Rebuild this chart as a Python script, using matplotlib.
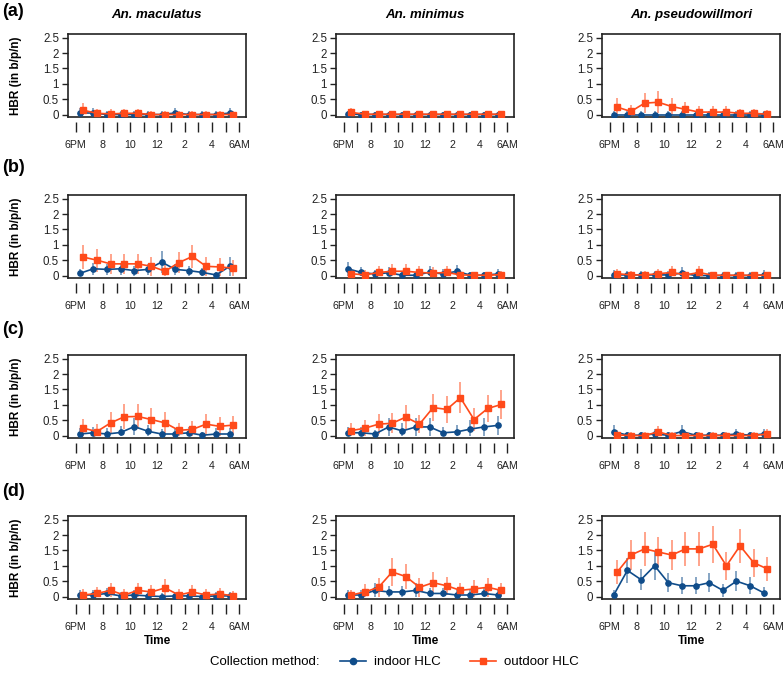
import numpy as np
import matplotlib
matplotlib.use('Agg')
import matplotlib.pyplot as plt
from matplotlib.lines import Line2D

plt.rcParams['font.family'] = ['Liberation Sans', 'DejaVu Sans']

# hourly tick marks from 6PM to 6AM, labels every two hours
tick_hours = list(range(13))
label_hours = [0, 2, 4, 6, 8, 10, 12]
tick_labels = ['6PM', '8', '10', '12', '2', '4', '6AM']
slot = np.arange(12)  # one-hour collection slots

species = ['An. maculatus', 'An. minimus', 'An. pseudowillmori']
row_tags = ['(a)', '(b)', '(c)', '(d)']

# HBR values, one list per row (a-d), 12 hourly slots each
mac_in = [[0.05, 0.05, 0.0, 0.0, 0.0, 0.0, 0.0, 0.05, 0.0, 0.0, 0.0, 0.05],
          [0.07, 0.22, 0.2, 0.22, 0.16, 0.2, 0.44, 0.2, 0.16, 0.1, 0.02, 0.3],
          [0.05, 0.09, 0.05, 0.1, 0.29, 0.14, 0.05, 0.05, 0.09, 0.01, 0.05, 0.05],
          [0.05, 0.05, 0.1, 0.02, 0.05, 0.02, 0.0, 0.02, 0.02, 0.0, 0.02, 0.02]]
mac_in_err = [[0.15, 0.15, 0.1, 0.1, 0.1, 0.1, 0.1, 0.15, 0.1, 0.1, 0.1, 0.15],
              [0.15, 0.2, 0.18, 0.2, 0.16, 0.18, 0.35, 0.18, 0.16, 0.14, 0.1, 0.3],
              [0.18, 0.2, 0.18, 0.2, 0.28, 0.2, 0.15, 0.15, 0.2, 0.1, 0.18, 0.18],
              [0.15, 0.15, 0.18, 0.12, 0.15, 0.12, 0.1, 0.12, 0.12, 0.1, 0.12, 0.12]]
mac_out = [[0.14, 0.04, 0.02, 0.04, 0.04, 0.0, 0.0, 0.0, 0.0, 0.0, 0.0, 0.0],
           [0.6, 0.5, 0.38, 0.38, 0.38, 0.3, 0.14, 0.42, 0.62, 0.3, 0.28, 0.24],
           [0.24, 0.13, 0.41, 0.61, 0.62, 0.52, 0.41, 0.17, 0.2, 0.37, 0.3, 0.34],
           [0.05, 0.1, 0.2, 0.05, 0.2, 0.15, 0.28, 0.05, 0.15, 0.05, 0.08, 0.03]]
mac_out_err = [[0.22, 0.15, 0.15, 0.15, 0.15, 0.12, 0.1, 0.1, 0.1, 0.1, 0.1, 0.1],
               [0.4, 0.37, 0.33, 0.33, 0.33, 0.3, 0.2, 0.33, 0.38, 0.3, 0.28, 0.25],
               [0.3, 0.25, 0.35, 0.4, 0.4, 0.36, 0.35, 0.25, 0.28, 0.33, 0.3, 0.31],
               [0.18, 0.2, 0.25, 0.18, 0.25, 0.22, 0.3, 0.18, 0.22, 0.18, 0.2, 0.15]]

min_in = [[0.02, 0.0, 0.0, 0.0, 0.0, 0.0, 0.0, 0.0, 0.0, 0.0, 0.0, 0.0],
          [0.22, 0.1, 0.05, 0.09, 0.01, 0.01, 0.11, 0.05, 0.14, 0.01, 0.01, 0.05],
          [0.09, 0.09, 0.05, 0.28, 0.15, 0.28, 0.28, 0.09, 0.12, 0.21, 0.28, 0.33],
          [0.05, 0.05, 0.2, 0.15, 0.15, 0.2, 0.1, 0.1, 0.05, 0.05, 0.1, 0.05]]
min_in_err = [[0.1, 0.08, 0.08, 0.08, 0.08, 0.08, 0.08, 0.08, 0.08, 0.08, 0.08, 0.08],
              [0.23, 0.18, 0.12, 0.18, 0.12, 0.12, 0.2, 0.15, 0.2, 0.12, 0.12, 0.15],
              [0.2, 0.2, 0.12, 0.3, 0.25, 0.3, 0.3, 0.2, 0.22, 0.28, 0.3, 0.32],
              [0.15, 0.15, 0.25, 0.2, 0.2, 0.25, 0.18, 0.18, 0.15, 0.15, 0.18, 0.15]]
min_out = [[0.07, 0.01, 0.01, 0.01, 0.01, 0.01, 0.01, 0.01, 0.01, 0.01, 0.01, 0.01],
           [0.06, 0.02, 0.1, 0.14, 0.14, 0.1, 0.08, 0.1, 0.02, 0.01, 0.01, 0.03],
           [0.16, 0.24, 0.37, 0.4, 0.6, 0.37, 0.91, 0.85, 1.23, 0.52, 0.88, 1.01],
           [0.05, 0.15, 0.3, 0.8, 0.65, 0.3, 0.45, 0.35, 0.2, 0.25, 0.3, 0.2]]
min_out_err = [[0.15, 0.1, 0.1, 0.1, 0.1, 0.1, 0.1, 0.1, 0.1, 0.1, 0.1, 0.1],
               [0.2, 0.15, 0.22, 0.25, 0.25, 0.22, 0.2, 0.22, 0.15, 0.1, 0.1, 0.12],
               [0.25, 0.28, 0.32, 0.33, 0.4, 0.3, 0.45, 0.45, 0.5, 0.38, 0.45, 0.48],
               [0.15, 0.25, 0.3, 0.45, 0.4, 0.3, 0.35, 0.3, 0.25, 0.28, 0.3, 0.25]]

pse_in = [[0.0, 0.0, 0.0, 0.0, 0.0, 0.0, 0.0, 0.0, 0.0, 0.0, 0.0, 0.0],
          [0.02, 0.02, 0.02, 0.02, 0.02, 0.08, 0.0, 0.0, 0.0, 0.0, 0.0, 0.02],
          [0.13, 0.01, 0.01, 0.05, 0.01, 0.13, 0.01, 0.01, 0.01, 0.05, 0.01, 0.05],
          [0.05, 0.85, 0.55, 1.0, 0.45, 0.35, 0.35, 0.45, 0.2, 0.5, 0.35, 0.12]]
pse_in_err = [[0.12, 0.12, 0.12, 0.12, 0.12, 0.12, 0.12, 0.12, 0.12, 0.12, 0.12, 0.12],
              [0.15, 0.12, 0.12, 0.12, 0.12, 0.2, 0.1, 0.1, 0.1, 0.1, 0.1, 0.15],
              [0.22, 0.1, 0.1, 0.15, 0.1, 0.2, 0.1, 0.1, 0.1, 0.15, 0.1, 0.15],
              [0.15, 0.4, 0.35, 0.45, 0.3, 0.28, 0.28, 0.3, 0.22, 0.32, 0.28, 0.2]]
pse_out = [[0.24, 0.1, 0.37, 0.4, 0.26, 0.17, 0.08, 0.08, 0.08, 0.04, 0.04, 0.01],
           [0.06, 0.02, 0.02, 0.06, 0.1, 0.02, 0.1, 0.01, 0.01, 0.01, 0.01, 0.01],
           [0.02, 0.0, 0.0, 0.12, 0.0, 0.0, 0.0, 0.0, 0.0, 0.0, 0.0, 0.05],
           [0.8, 1.35, 1.55, 1.45, 1.35, 1.55, 1.55, 1.7, 1.0, 1.65, 1.1, 0.9]]
pse_out_err = [[0.3, 0.2, 0.33, 0.35, 0.27, 0.25, 0.2, 0.2, 0.2, 0.15, 0.15, 0.13],
               [0.15, 0.12, 0.12, 0.15, 0.2, 0.12, 0.2, 0.1, 0.1, 0.1, 0.1, 0.1],
               [0.15, 0.1, 0.1, 0.2, 0.1, 0.1, 0.1, 0.1, 0.1, 0.1, 0.1, 0.15],
               [0.4, 0.5, 0.55, 0.5, 0.5, 0.55, 0.55, 0.6, 0.45, 0.55, 0.45, 0.4]]

indoor = [(mac_in, mac_in_err), (min_in, min_in_err), (pse_in, pse_in_err)]
outdoor = [(mac_out, mac_out_err), (min_out, min_out_err), (pse_out, pse_out_err)]

BLUE = '#0f4c8a'
RED = '#ff4a1a'
W, H = 784, 681

fig = plt.figure(figsize=(W / 100, H / 100), dpi=100)

col_left = [68, 336, 602]
row_top = [34, 195, 355, 516]
box_w, box_h = 178, 83


def draw_series(ax, x, vals, errs, color, marker):
    vals = np.array(vals)
    errs = np.array(errs)
    lower = np.minimum(vals, errs)
    ax.vlines(x, vals - lower, vals + errs, color=color, alpha=0.5, lw=1.4, zorder=2)
    ax.plot(x, vals, color=color, lw=1.2, marker=marker, ms=3.8, mec=color, zorder=3)


for r in range(4):
    for c in range(3):
        left = col_left[c] / W
        bottom = 1 - (row_top[r] + box_h) / H
        ax = fig.add_axes([left, bottom, box_w / W, box_h / H])
        vi, ei = indoor[c]
        vo, eo = outdoor[c]
        draw_series(ax, slot + 0.3, vi[r], ei[r], BLUE, 'o')
        draw_series(ax, slot + 0.56, vo[r], eo[r], RED, 's')

        ax.set_xlim(-0.56, 12.49)
        ax.set_ylim(-0.08, 2.62)
        ax.set_yticks([0, 0.5, 1, 1.5, 2, 2.5])
        ax.set_yticklabels(['0', '0.5', '1', '1.5', '2', '2.5'])
        ax.tick_params(axis='y', direction='out', length=4.5, width=1, pad=2,
                       labelsize=8.3, colors='#222222')
        ax.tick_params(axis='x', bottom=False, labelbottom=False)
        for sp in ax.spines.values():
            sp.set_linewidth(1.2)
            sp.set_color('#222222')

        # detached time axis below the box
        sec = ax.secondary_xaxis(-0.06)
        sec.spines['bottom'].set_visible(False)
        sec.set_xticks(label_hours, labels=tick_labels)
        sec.set_xticks(tick_hours, minor=True)
        sec.tick_params(axis='x', which='both', direction='out', length=7, width=1,
                        colors='#222222')
        sec.tick_params(axis='x', which='major', labelsize=7.7, pad=6)

        if c == 0:
            ax.set_ylabel('HBR (in b/p/n)', fontsize=8.5, fontweight='bold')
            ax.yaxis.set_label_coords(-0.26, 0.5)

for c in range(3):
    cx = (col_left[c] + box_w / 2) / W
    fig.text(cx, 1 - 15 / H, species[c], ha='center', va='center',
             fontsize=9.5, fontweight='bold', fontstyle='italic')
    fig.text(cx, 1 - 641 / H, 'Time', ha='center', va='center',
             fontsize=8.5, fontweight='bold')

row_tag_y = [12, 168, 330, 491]
for r in range(4):
    fig.text(2 / W, 1 - row_tag_y[r] / H, row_tags[r], ha='left', va='center',
             fontsize=13, fontweight='bold')

# legend
fig.text(320 / W, 1 - 662 / H, 'Collection method:', ha='right', va='center', fontsize=9.5)
handles = [Line2D([], [], color=BLUE, marker='o', ms=4.5, lw=1.2),
           Line2D([], [], color=RED, marker='s', ms=4.5, lw=1.2)]
fig.legend(handles, ['indoor HLC', 'outdoor HLC'], loc='center left',
           bbox_to_anchor=(328 / W, 1 - 662 / H), ncol=2, frameon=False,
           fontsize=9.5, handlelength=2, columnspacing=2.2, handletextpad=0.6)

fig.savefig('out.png', dpi=100)
